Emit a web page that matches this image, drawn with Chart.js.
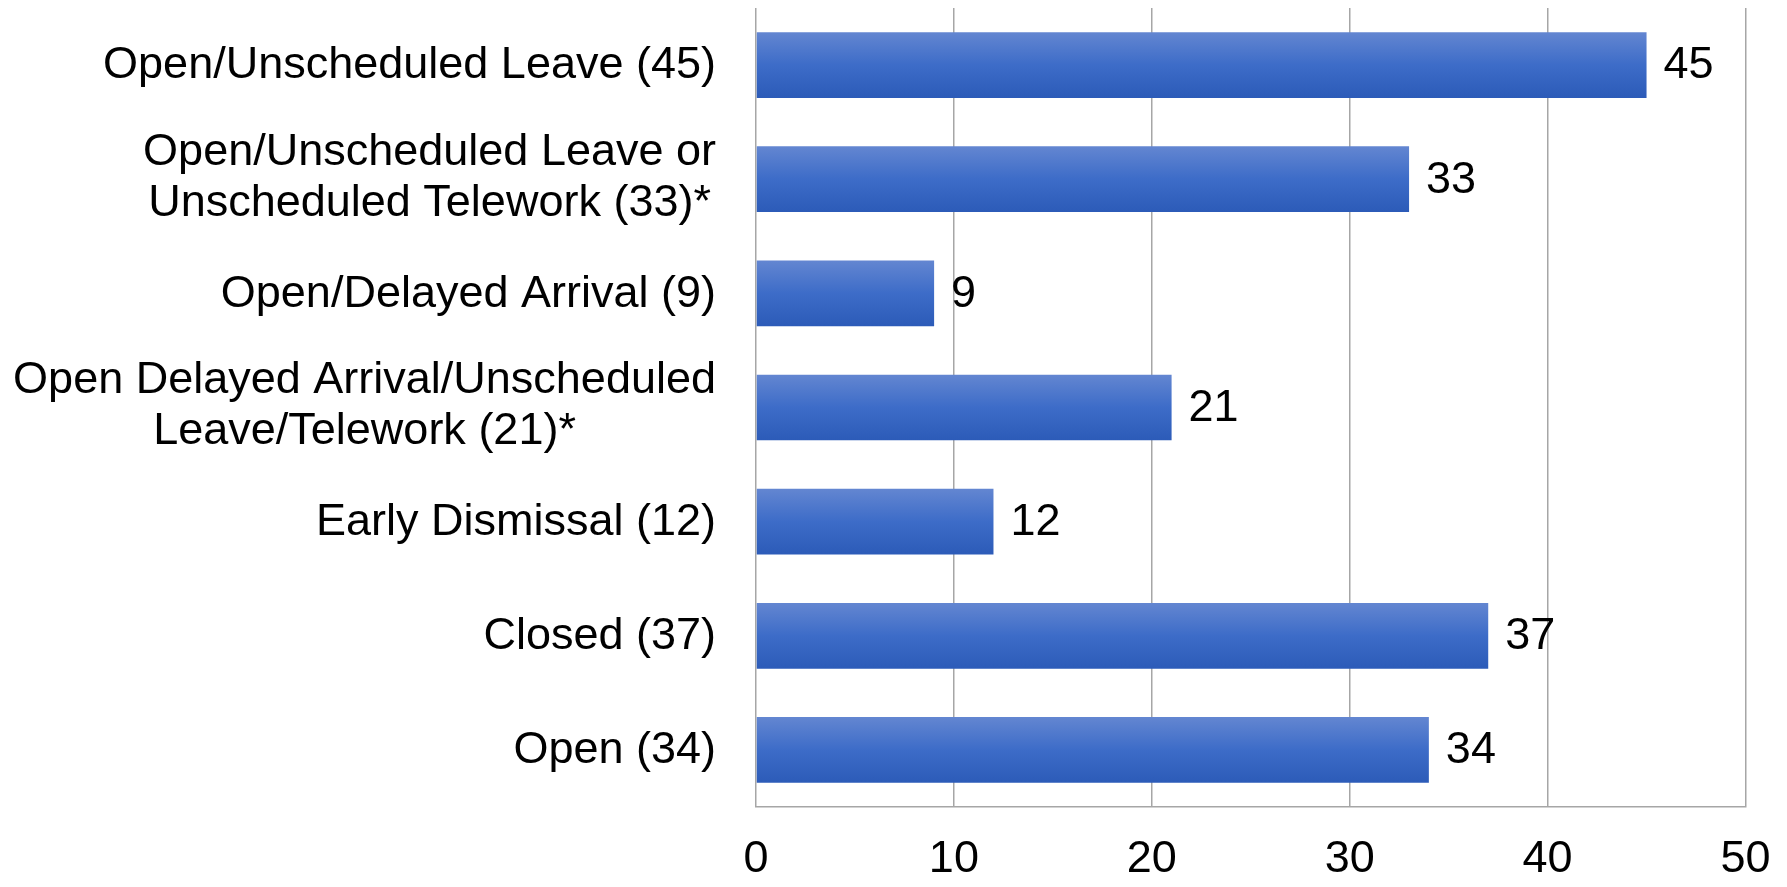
<!DOCTYPE html>
<html><head><meta charset="utf-8">
<script src="https://cdn.jsdelivr.net/npm/chart.js@4.4.0/dist/chart.umd.min.js"></script>
<style>html,body{margin:0;padding:0;background:#fff;}#wrap{width:1787px;height:887px;}</style>
</head><body><div id="wrap"><canvas id="c" width="1787" height="887"></canvas></div>
<script>
const categories = [
  ['Open/Unscheduled Leave (45)'],
  ['Open/Unscheduled Leave or', 'Unscheduled Telework (33)*'],
  ['Open/Delayed Arrival (9)'],
  ['Open Delayed Arrival/Unscheduled', 'Leave/Telework (21)*'],
  ['Early Dismissal (12)'],
  ['Closed (37)'],
  ['Open (34)']
];
const values = [45, 33, 9, 21, 12, 37, 34];
const xTicks = [0, 10, 20, 30, 40, 50];

const FONT = '"Liberation Sans", Arial, sans-serif';

const gradientPlugin = {
  id: 'grad',
  beforeDatasetsDraw(chart) {
    const ctx = chart.ctx;
    chart.getDatasetMeta(0).data.forEach(el => {
      const top = el.y - el.height / 2, bot = el.y + el.height / 2;
      const g = ctx.createLinearGradient(0, top, 0, bot);
      g.addColorStop(0, '#6386d1');
      g.addColorStop(0.5, '#3d6cc8');
      g.addColorStop(1, '#2c5bb8');
      el.options = Object.assign({}, el.options, { backgroundColor: g });
    });
  }
};

const labelPlugin = {
  id: 'labels',
  afterDraw(chart) {
    const ctx = chart.ctx;
    ctx.save();
    ctx.font = '45px ' + FONT;
    ctx.fillStyle = '#000';
    ctx.textBaseline = 'middle';
    chart.getDatasetMeta(0).data.forEach((el, i) => {
      ctx.textAlign = 'left';
      ctx.fillText(String(values[i]), el.x + 17, el.y + 1);
    });
    const ys = chart.scales.y;
    const right = ys.right - 40;
    const lh = 51;
    categories.forEach((lines, i) => {
      const cy = ys.getPixelForValue(i);
      const w0 = ctx.measureText(lines[0]).width;
      const cx = right - w0 / 2;
      const y0 = cy - (lines.length - 1) * lh / 2 + (lines.length > 1 ? -1 : 1);
      lines.forEach((t, j) => {
        if (j === 0) { ctx.textAlign = 'right'; ctx.fillText(t, right, y0); }
        else { ctx.textAlign = 'center'; ctx.fillText(t, cx, y0 + j * lh); }
      });
    });
    ctx.restore();
  }
};

new Chart(document.getElementById('c'), {
  type: 'bar',
  data: {
    labels: categories.map(l => l.join(' ')),
    datasets: [{
      data: values,
      backgroundColor: '#3d6cc8',
      borderWidth: 0,
      barPercentage: 0.576,
      categoryPercentage: 1
    }]
  },
  options: {
    indexAxis: 'y',
    responsive: false,
    animation: false,
    layout: { padding: { top: 8, right: 41.5, left: 0, bottom: 0 } },
    plugins: { legend: { display: false }, tooltip: { enabled: false } },
    scales: {
      x: {
        min: xTicks[0], max: xTicks[xTicks.length - 1],
        afterBuildTicks(s) { s.ticks = xTicks.map(v => ({ value: v })); },
        afterFit(s) { s.height = 80; s.paddingLeft = 0; s.paddingRight = 0; },
        grid: { color: '#a6a6a6', lineWidth: 1.5, drawTicks: false },
        border: { display: true, color: '#a6a6a6', width: 1.5 },
        ticks: { color: '#000', font: { size: 45, family: FONT }, padding: 26 }
      },
      y: {
        afterFit(s) { s.width = 756; s.paddingTop = 0; s.paddingBottom = 0; },
        grid: { display: false, drawTicks: false },
        border: { display: false },
        ticks: { display: false }
      }
    }
  },
  plugins: [gradientPlugin, labelPlugin]
});
</script>
</body></html>
